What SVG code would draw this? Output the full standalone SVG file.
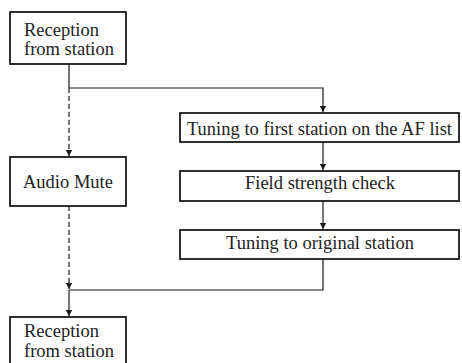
<svg xmlns="http://www.w3.org/2000/svg" width="462" height="363" viewBox="0 0 462 363">
  <style>
    .box { fill: #fff; stroke: #1a1a1a; stroke-width: 1.8; }
    .lbl { font-family: "Liberation Serif", "Times New Roman", serif; font-size: 18.5px; fill: #222; }
    .wire { fill: none; stroke: #1a1a1a; stroke-width: 1.2; }
    .dash { stroke-dasharray: 5 3; }
  </style>
  <defs>
    <marker id="arrow" viewBox="0 0 6 10" refX="6" refY="5" markerWidth="7" markerHeight="10" markerUnits="userSpaceOnUse" orient="auto">
      <path d="M0,1.8 L6,5 L0,8.2 Z" fill="#1a1a1a"/>
    </marker>
  </defs>

  <rect width="462" height="363" fill="#fff"/>

  <g id="connectors">
    <!-- main path: reception -> junction -->
    <line class="wire" x1="69" y1="64" x2="69" y2="88"/>
    <!-- branch to AF tuning -->
    <polyline class="wire" points="69,88 323,88 323,112" marker-end="url(#arrow)"/>
    <!-- dashed path through audio mute -->
    <line class="wire dash" x1="69" y1="88" x2="69" y2="156" marker-end="url(#arrow)"/>
    <line class="wire dash" x1="69" y1="206" x2="69" y2="289" marker-end="url(#arrow)"/>
    <!-- AF sequence -->
    <line class="wire" x1="323" y1="142" x2="323" y2="170" marker-end="url(#arrow)"/>
    <line class="wire" x1="323" y1="201" x2="323" y2="229" marker-end="url(#arrow)"/>
    <!-- return to main path -->
    <polyline class="wire" points="323,259 323,290 69,290"/>
    <line class="wire" x1="69" y1="290" x2="69" y2="316" marker-end="url(#arrow)"/>
  </g>

  <g id="reception-top">
    <rect class="box" x="10" y="12" width="116" height="52"/>
    <text class="lbl" x="24" y="36">Reception</text>
    <text class="lbl" x="24" y="55">from station</text>
  </g>

  <g id="audio-mute">
    <rect class="box" x="10" y="157" width="116" height="49"/>
    <text class="lbl" x="23" y="188">Audio Mute</text>
  </g>

  <g id="reception-bottom">
    <rect class="box" x="10" y="317" width="116" height="50"/>
    <text class="lbl" x="24" y="337">Reception</text>
    <text class="lbl" x="24" y="357">from station</text>
  </g>

  <g id="tune-af">
    <rect class="box" x="180" y="113" width="279" height="29"/>
    <text class="lbl" x="319.5" y="134.5" text-anchor="middle">Tuning to first station on the AF list</text>
  </g>

  <g id="field-strength">
    <rect class="box" x="180" y="171" width="279" height="30"/>
    <text class="lbl" x="320" y="189" text-anchor="middle">Field strength check</text>
  </g>

  <g id="tune-original">
    <rect class="box" x="180" y="230" width="279" height="29"/>
    <text class="lbl" x="320" y="249" text-anchor="middle">Tuning to original station</text>
  </g>
</svg>
